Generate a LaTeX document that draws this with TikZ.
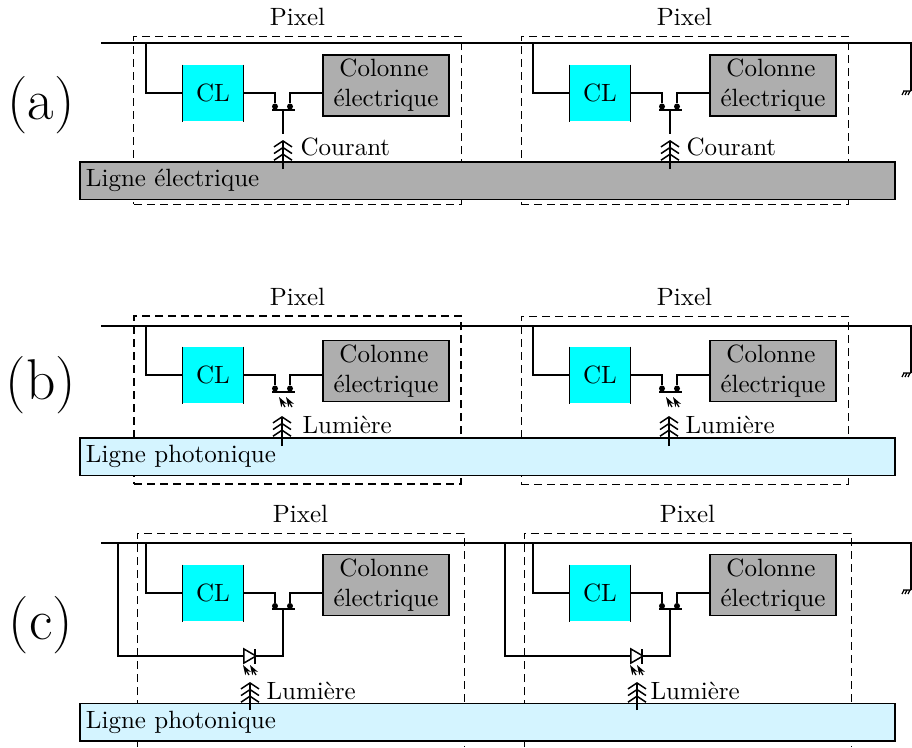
\documentclass[tikz,border=0pt]{standalone}
\usetikzlibrary{arrows.meta,shapes.geometric}
\definecolor{grisligne}{HTML}{AEAEAE}
\definecolor{bleuligne}{HTML}{D4F4FF}
\definecolor{cyanbloc}{HTML}{00FFFF}
\tikzset{
	fil/.style = {line width=0.6pt},
	cadre/.style = {draw, line width=0.4pt, dash pattern=on 3.2pt off 2pt},
	clbox/.style = {fill=cyanbloc, minimum width=24pt, minimum height=22.4pt, inner sep=0pt,
		append after command={(\tikzlastnode.north west) edge[fil] (\tikzlastnode.south west)
		(\tikzlastnode.north east) edge[fil] (\tikzlastnode.south east)}},
	colonne/.style = {draw, fil, fill=grisligne, minimum width=50.4pt, minimum height=24.4pt, inner sep=0pt, align=center},
	ligne/.style = {draw, fil, minimum height=15pt, text width=321.2pt, text height=7pt, text depth=1.9pt, inner xsep=2.4pt, inner ysep=0pt, align=left},
	plot/.style = {circle, fill=black, minimum size=2.4pt, inner sep=0pt},
	grille/.style = {fill=black, minimum width=9.2pt, minimum height=0.6pt, inner sep=0pt},
	texte/.style = {anchor=base west, inner sep=0pt},
	titre/.style = {anchor=base, inner sep=0pt},
	lettre/.style = {font=\fontsize{23}{27}\selectfont},
	triple/.style = {fil, -{Straight Barb[length=2.4pt,width=7.2pt,sep=-0.4pt,line width=0.6pt]Straight Barb[length=2.4pt,width=7.2pt,sep=-0.4pt,line width=0.6pt]Straight Barb[length=2.4pt,width=7.2pt,sep=0pt,line width=0.6pt]}},
	photon/.style = {line width=0.5pt, -{Stealth[length=4pt,width=2.6pt]}},
	diode/.style = {draw, fil, isosceles triangle, isosceles triangle stretches=true, shape border rotate=0, minimum width=5.6pt, minimum height=4.8pt, inner sep=0pt},
	cathode/.style = {fill=black, minimum width=0.6pt, minimum height=6pt, inner sep=0pt},
}
\newcommand{\Masse}[1]{\draw[line width=0.5pt] (#1) +(-8,0) -- +(0,0) (#1) +(-9,4) -- +(-7,0) (#1) +(-6,4) -- +(-4,0) (#1) +(-3,4) -- +(-1,0);}
\newcommand{\Photons}[2]{\draw[photon] (#1+6,#2+10) -- (#1,#2); \draw[photon] (#1+13,#2+10) -- (#1+7,#2);}
\begin{document}
\begin{tikzpicture}[x=0.4pt,y=-0.4pt]
	\useasboundingbox (0,0) rectangle (912,747);
	% (a)
	\node[lettre] (a) at (41,105) {(a)};
	\node[cadre, minimum width=130.8pt, minimum height=67.2pt, inner sep=0pt] (CADREa1) at (297.5,120) {};
	\node[cadre, minimum width=130.8pt, minimum height=67.2pt, inner sep=0pt] (CADREa2) at (684.5,120) {};
	\node[titre] (PIXa1) at (297.5,25) {Pixel};
	\node[titre] (PIXa2) at (684.5,25) {Pixel};
	\coordinate (BUSa) at (101,43);
	\coordinate (FINa) at (911,43);
	\coordinate (MASa) at (911,91);
	\draw[fil] (BUSa) -- (FINa) -- (MASa);
	\Masse{MASa}
	\node[ligne, fill=grisligne] (LIGa) at (487.5,180.5) {Ligne électrique};
	\node[clbox] (CLa1) at (213,93) {CL};
	\node[clbox] (CLa2) at (600,93) {CL};
	\node[colonne] (COLa1) at (386,85.5) {Colonne\,\\électrique};
	\node[colonne] (COLa2) at (773,85.5) {Colonne\,\\électrique};
	\node[plot] (Sa1) at (275,106.5) {};
	\node[plot] (Da1) at (290,106.5) {};
	\node[plot] (Sa2) at (662,106.5) {};
	\node[plot] (Da2) at (677,106.5) {};
	\node[grille] (Ga1) at (283,110) {};
	\node[grille] (Ga2) at (670,110) {};
	\coordinate (Ta1) at (146,43);
	\coordinate (Ta2) at (533,43);
	\coordinate (Ra1) at (283,134);
	\coordinate (Ra2) at (670,134);
	\coordinate (Qa1) at (283,169);
	\coordinate (Qa2) at (670,169);
	\coordinate (Pa1) at (283,140);
	\coordinate (Pa2) at (670,140);
	\draw[fil] (Ta1) |- (CLa1.west);
	\draw[fil] (Ta2) |- (CLa2.west);
	\draw[fil] (CLa1.east) -| (Sa1);
	\draw[fil] (CLa2.east) -| (Sa2);
	\draw[fil] (COLa1.west |- CLa1.east) -| (Da1);
	\draw[fil] (COLa2.west |- CLa2.east) -| (Da2);
	\draw[fil] (Ga1) -- (Ra1);
	\draw[fil] (Ga2) -- (Ra2);
	\draw[triple] (Qa1) -- (Pa1);
	\draw[triple] (Qa2) -- (Pa2);
	\node[texte] (COUa1) at (300,155) {Courant};
	\node[texte] (COUa2) at (686,155) {Courant};
	% (b)
	\node[lettre] (b) at (41,385) {(b)};
	\node[cadre, line width=0.8pt, minimum width=130.8pt, minimum height=67.2pt, inner sep=0pt] (CADREb1) at (297.5,400) {};
	\node[cadre, minimum width=130.8pt, minimum height=67.2pt, inner sep=0pt] (CADREb2) at (684.5,400) {};
	\node[titre] (PIXb1) at (297.5,305) {Pixel};
	\node[titre] (PIXb2) at (684.5,305) {Pixel};
	\coordinate (BUSb) at (101,326);
	\coordinate (FINb) at (911,326);
	\coordinate (MASb) at (911,373);
	\draw[fil] (BUSb) -- (FINb) -- (MASb);
	\Masse{MASb}
	\node[ligne, fill=bleuligne] (LIGb) at (487.5,456.5) {Ligne photonique};
	\node[clbox] (CLb1) at (213,375) {CL};
	\node[clbox] (CLb2) at (600,375) {CL};
	\node[colonne] (COLb1) at (386,371) {Colonne\,\\électrique};
	\node[colonne] (COLb2) at (773,371) {Colonne\,\\électrique};
	\node[plot] (Sb1) at (275,388.5) {};
	\node[plot] (Db1) at (290,388.5) {};
	\node[plot] (Sb2) at (662,388.5) {};
	\node[plot] (Db2) at (677,388.5) {};
	\node[grille] (Gb1) at (283,392) {};
	\node[grille] (Gb2) at (670,392) {};
	\coordinate (Tb1) at (146,326);
	\coordinate (Tb2) at (533,326);
	\coordinate (Qb1) at (282,446);
	\coordinate (Qb2) at (669,446);
	\coordinate (Pb1) at (282,416);
	\coordinate (Pb2) at (669,416);
	\draw[fil] (Tb1) |- (CLb1.west);
	\draw[fil] (Tb2) |- (CLb2.west);
	\draw[fil] (CLb1.east) -| (Sb1);
	\draw[fil] (CLb2.east) -| (Sb2);
	\draw[fil] (COLb1.west |- CLb1.east) -| (Db1);
	\draw[fil] (COLb2.west |- CLb2.east) -| (Db2);
	\Photons{279}{397}
	\Photons{666}{397}
	\draw[triple] (Qb1) -- (Pb1);
	\draw[triple] (Qb2) -- (Pb2);
	\node[texte] (LUMb1) at (302,433) {Lumière};
	\node[texte] (LUMb2) at (685,433) {Lumière};
	% (c)
	\node[lettre] (c) at (41,625) {(c)};
	\coordinate (HGc1) at (137,533);
	\coordinate (HDc1) at (464,533);
	\coordinate (BGc1) at (137,747);
	\coordinate (BDc1) at (464,747);
	\coordinate (HGc2) at (524,533);
	\coordinate (HDc2) at (851,533);
	\coordinate (BGc2) at (524,747);
	\coordinate (BDc2) at (851,747);
	\draw[cadre] (BGc1) -- (HGc1) -- (HDc1) -- (BDc1);
	\draw[cadre] (BGc2) -- (HGc2) -- (HDc2) -- (BDc2);
	\node[titre] (PIXc1) at (300.5,522) {Pixel};
	\node[titre] (PIXc2) at (687.5,522) {Pixel};
	\coordinate (BUSc) at (101,543);
	\coordinate (FINc) at (911,543);
	\coordinate (MASc) at (911,590);
	\draw[fil] (BUSc) -- (FINc) -- (MASc);
	\Masse{MASc}
	\node[ligne, fill=bleuligne] (LIGc) at (487.5,722) {Ligne photonique};
	\node[clbox] (CLc1) at (213,593) {CL};
	\node[clbox] (CLc2) at (600,593) {CL};
	\node[colonne] (COLc1) at (386,585) {Colonne\,\\électrique};
	\node[colonne] (COLc2) at (773,585) {Colonne\,\\électrique};
	\node[plot] (Sc1) at (275,606) {};
	\node[plot] (Dc1) at (290,606) {};
	\node[plot] (Sc2) at (662,606) {};
	\node[plot] (Dc2) at (677,606) {};
	\node[grille] (Gc1) at (283,609) {};
	\node[grille] (Gc2) at (670,609) {};
	\node[diode] (DIODEc1) at (248,656) {};
	\node[diode] (DIODEc2) at (635,656) {};
	\node[cathode] (KATc1) at (255,656) {};
	\node[cathode] (KATc2) at (642,656) {};
	\coordinate (Tc1) at (146,543);
	\coordinate (Tc2) at (533,543);
	\coordinate (Uc1) at (118,543);
	\coordinate (Uc2) at (505,543);
	\coordinate (Qc1) at (250,710);
	\coordinate (Qc2) at (637,710);
	\coordinate (Pc1) at (250,682);
	\coordinate (Pc2) at (637,682);
	\draw[fil] (Tc1) |- (CLc1.west);
	\draw[fil] (Tc2) |- (CLc2.west);
	\draw[fil] (CLc1.east) -| (Sc1);
	\draw[fil] (CLc2.east) -| (Sc2);
	\draw[fil] (COLc1.west |- CLc1.east) -| (Dc1);
	\draw[fil] (COLc2.west |- CLc2.east) -| (Dc2);
	\draw[fil] (Uc1) |- (DIODEc1.west);
	\draw[fil] (Uc2) |- (DIODEc2.west);
	\draw[fil] (Gc1) |- (KATc1);
	\draw[fil] (Gc2) |- (KATc2);
	\Photons{243}{665}
	\Photons{630}{665}
	\draw[triple] (Qc1) -- (Pc1);
	\draw[triple] (Qc2) -- (Pc2);
	\node[texte] (LUMc1) at (266,699) {Lumière};
	\node[texte] (LUMc2) at (650,699) {Lumière};
\end{tikzpicture}
\end{document}
